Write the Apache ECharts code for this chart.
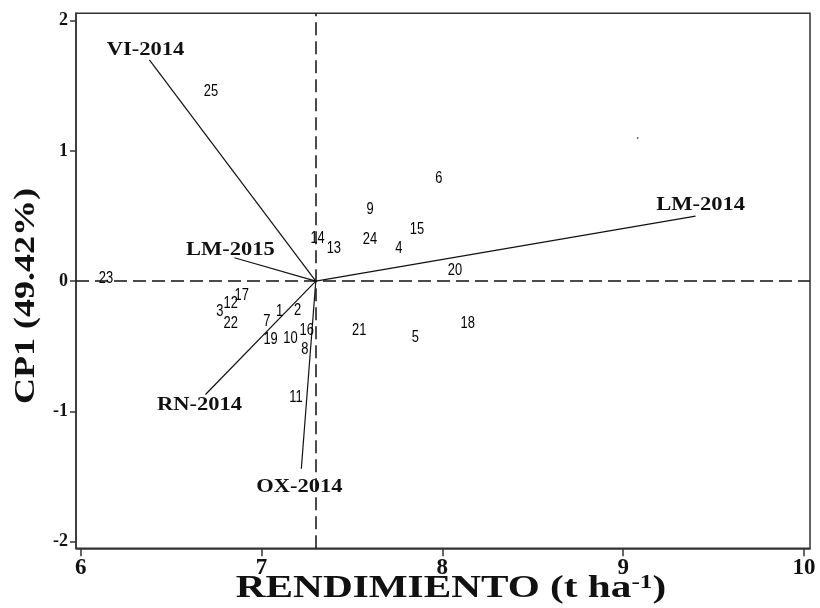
<!DOCTYPE html>
<html>
<head>
<meta charset="utf-8">
<script src="https://cdn.jsdelivr.net/npm/echarts@6/dist/echarts.min.js"></script>
<style>
  html, body { margin: 0; padding: 0; background: #fff; }
  #chart { width: 820px; height: 608px; }
</style>
</head>
<body>
<div id="chart"></div>
<script>
// Genotype scores: mean yield (t/ha) against the first principal component
const genotypeIds = ['1','2','3','4','5','6','7','8','9','10','11','12','13',
                     '14','15','16','17','18','19','20','21','22','23','24','25'];
const genotypeYield = [7.10, 7.20, 6.77, 7.76, 7.85, 7.98, 7.03, 7.24, 7.60, 7.16, 7.19, 6.83, 7.40,
                       7.31, 7.86, 7.25, 6.89, 8.14, 7.05, 8.07, 7.54, 6.83, 6.14, 7.60, 6.72];
const genotypeCP1 = [-0.23, -0.22, -0.23, 0.25, -0.43, 0.79, -0.31, -0.52, 0.55, -0.44, -0.89, -0.17, 0.25,
                     0.33, 0.40, -0.38, -0.11, -0.32, -0.45, 0.08, -0.38, -0.32, 0.02, 0.32, 1.46];

// Environment vectors, drawn from the grand mean
const envNames = ['VI-2014', 'LM-2015', 'LM-2014', 'RN-2014', 'OX-2014'];
const envYield = [6.38, 6.85, 9.40, 6.69, 7.22];
const envCP1 = [1.70, 0.18, 0.50, -0.87, -1.44];

// Grand mean (origin of the vectors and reference lines)
const meanYield = 7.3;
const meanCP1 = 0;

// Isolated point in the upper right
const isolatedPoint = [[9.08, 1.10]];

// Axis ticks and extents
const xTicks = [6, 7, 8, 9, 10];
const yTicks = [-2, -1, 0, 1, 2];
const xExtent = [5.974, 10.033];
const yExtent = [-2.051, 2.057];

// Label nudges for the environment names (pixels, relative to the vector tip)
const envLabelOffsets = [[-4, -9], [-4, -7], [5, -11], [-6, 11], [-2, 19]];

const serif = '"Liberation Serif", "Times New Roman", serif';
const sans = '"Liberation Sans", Arial, sans-serif';
const frameColor = '#333';

const chart = echarts.init(document.getElementById('chart'), null, { renderer: 'canvas' });

// Straight vectors from the grand mean to each environment
const vectorSeries = envNames.map((name, i) => ({
  type: 'line',
  name: name,
  silent: true,
  showSymbol: false,
  lineStyle: { color: '#111', width: 1.2 },
  data: [[meanYield, meanCP1], [envYield[i], envCP1[i]]],
  z: 3
}));

const option = {
  animation: false,
  backgroundColor: '#fff',
  grid: {
    left: 76, right: 10, top: 13.3, bottom: 59.7,
    show: true, borderColor: frameColor, borderWidth: 1.5, backgroundColor: 'transparent'
  },
  xAxis: {
    type: 'value',
    min: xExtent[0], max: xExtent[1],
    splitLine: { show: false },
    axisLine: { show: true, onZero: false, lineStyle: { color: frameColor, width: 1.5 } },
    axisTick: { show: true, length: 8, lineStyle: { color: frameColor, width: 1.5 }, customValues: xTicks },
    axisLabel: {
      customValues: xTicks, margin: 8,
      fontFamily: serif, fontWeight: 'bold', fontSize: 23, color: '#111',
      formatter: v => String(Math.round(v))
    }
  },
  yAxis: {
    type: 'value',
    min: yExtent[0], max: yExtent[1],
    splitLine: { show: false },
    axisLine: { show: true, onZero: false, lineStyle: { color: frameColor, width: 1.5 } },
    axisTick: { show: true, length: 6, lineStyle: { color: frameColor, width: 1.5 }, customValues: yTicks },
    axisLabel: {
      customValues: yTicks, margin: 8,
      fontFamily: serif, fontWeight: 'bold', fontSize: 18, color: '#111',
      formatter: v => String(Math.round(v))
    }
  },
  graphic: [
    {
      type: 'text',
      x: 451, y: 589,
      scaleX: 1.33,
      style: {
        text: 'RENDIMIENTO (t ha{s|-1})',
        fontFamily: serif, fontWeight: 'bold', fontSize: 31, fill: '#111',
        align: 'center', verticalAlign: 'middle',
        rich: { s: { fontFamily: serif, fontWeight: 'bold', fontSize: 19, fill: '#111', verticalAlign: 'top' } }
      },
      z: 10
    },
    {
      type: 'text',
      x: 26, y: 296,
      rotation: Math.PI / 2,
      scaleX: 1.2,
      style: {
        text: 'CP1 (49.42%)',
        fontFamily: serif, fontWeight: 'bold', fontSize: 30, fill: '#111',
        align: 'center', verticalAlign: 'middle'
      },
      z: 10
    }
  ],
  series: [
    {
      // Genotype numbers, placed at their scores in a narrow face
      type: 'custom',
      name: 'Genotipos',
      silent: true,
      data: genotypeYield.map((x, i) => [x, genotypeCP1[i]]),
      renderItem: (params, api) => {
        const pt = api.coord([api.value(0), api.value(1)]);
        return {
          type: 'text',
          x: pt[0], y: pt[1],
          scaleX: 0.76,
          style: {
            text: genotypeIds[params.dataIndex],
            fontFamily: sans, fontSize: 17, fill: '#000',
            align: 'center', verticalAlign: 'middle'
          }
        };
      },
      markLine: {
        silent: true,
        symbol: ['none', 'none'],
        label: { show: false },
        lineStyle: { color: '#111', width: 1.5, type: [13, 6] },
        data: [{ xAxis: meanYield }, { yAxis: meanCP1 }]
      },
      z: 4
    },
    {
      // Environment names at the vector tips
      type: 'custom',
      name: 'Ambientes',
      silent: true,
      data: envYield.map((x, i) => [x, envCP1[i]]),
      renderItem: (params, api) => {
        const pt = api.coord([api.value(0), api.value(1)]);
        const off = envLabelOffsets[params.dataIndex];
        return {
          type: 'text',
          x: pt[0] + off[0], y: pt[1] + off[1],
          scaleX: 1.25,
          style: {
            text: envNames[params.dataIndex],
            fontFamily: serif, fontWeight: 'bold', fontSize: 18, fill: '#111',
            align: 'center', verticalAlign: 'middle'
          }
        };
      },
      z: 5
    },
    {
      type: 'scatter',
      name: 'Punto',
      silent: true,
      symbolSize: 2,
      itemStyle: { color: '#444' },
      data: isolatedPoint
    }
  ].concat(vectorSeries)
};

chart.setOption(option);
</script>
</body>
</html>
